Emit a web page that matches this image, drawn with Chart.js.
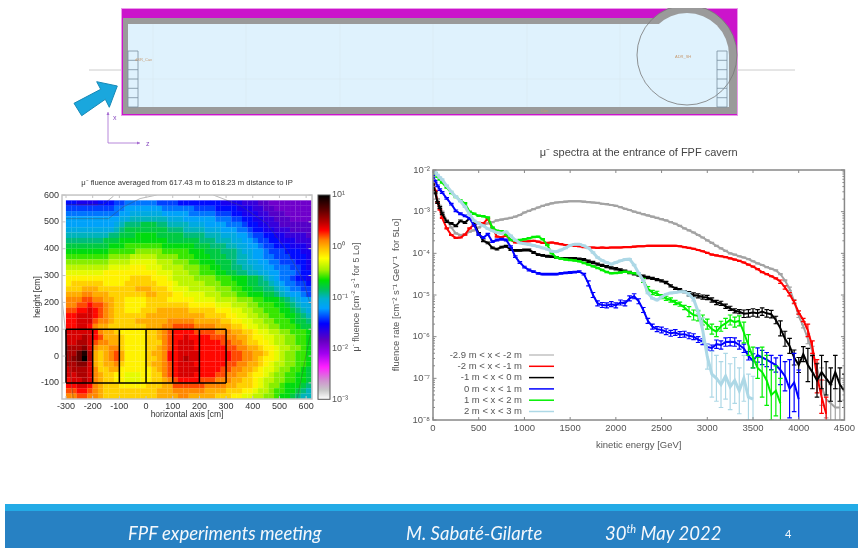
<!DOCTYPE html>
<html>
<head>
<meta charset="utf-8">
<title>FPF muon fluence</title>
<script src="https://cdn.jsdelivr.net/npm/chart.js"></script>
<style>
html, body { margin: 0; padding: 0; background: #fff; }
#slide { position: relative; width: 858px; height: 548px; overflow: hidden; filter: blur(0.45px); font-family: "Liberation Sans", sans-serif; }
#slide canvas { position: absolute; }
#heat { filter: blur(0.65px); }
#schematic { position: absolute; left: 0; top: 0; }
#barTitle { position: absolute; left: 355px; top: 297px; transform: translate(-50%, -50%) rotate(-90deg); white-space: nowrap; font-size: 9px; color: #555; }
#footer { position: absolute; left: 5px; right: 0; top: 504px; height: 44px; background: #2781c3; border-top: 7px solid #23abe6; box-sizing: border-box; }
#footer span { position: absolute; color: #f4f8fc; font-family: Lato, sans-serif; font-style: italic; font-size: 18.5px; top: 11px; white-space: nowrap; }
#footer sup { font-size: 11px; line-height: 0; }
</style>
</head>
<body>
<div id="slide">
  <svg id="schematic" width="858" height="170" font-family="Liberation Sans">
    <defs><clipPath id="topClip"><rect x="0" y="8" width="858" height="162"/></clipPath></defs>
    <line x1="89" y1="70" x2="122" y2="70" stroke="#ccc"/>
    <line x1="738" y1="70" x2="795" y2="70" stroke="#ccc"/>
    <rect x="121.5" y="8.5" width="616" height="107" fill="#cb14cb" stroke="#eb9aeb"/>
    <g clip-path="url(#topClip)">
      <rect x="123" y="18" width="530" height="96" fill="#9a9a9a"/>
      <rect x="123" y="55" width="614" height="59" fill="#9a9a9a"/>
      <circle cx="687" cy="55" r="50" fill="#9a9a9a"/>
      <rect x="128" y="24" width="531" height="83" fill="#dff2fd"/>
      <rect x="659" y="55" width="70" height="52" fill="#dff2fd"/>
      <circle cx="687" cy="55" r="42" fill="#dff2fd"/>
      <circle cx="687" cy="55" r="50" fill="none" stroke="#777" stroke-width="0.8"/>
    </g>
    <path d="M153 24V107M246 24V107M340 24V107M433 24V107M527 24V107M620 24V107M128 79H729" stroke="#d6e6ef" stroke-width="0.5" fill="none"/>
    <path d="M128 51h10v56h-10zM128 60.300h10M128 69.700h10M128 79h10M128 88.300h10M128 97.700h10" stroke="#7a8fa0" stroke-width="0.8" fill="none"/>
    <path d="M717 51h10v56h-10zM717 60.300h10M717 69.700h10M717 79h10M717 88.300h10M717 97.700h10" stroke="#7a8fa0" stroke-width="0.8" fill="none"/>
    <text x="135" y="61" font-size="4" fill="#c79a70">dSR_Cav</text>
    <text x="675" y="57.500" font-size="4" fill="#c79a70">ADR_SH</text>
    <text x="541" y="112" font-size="4" fill="#c79a70">Cav</text>
    <polygon points="74,103.300 100.700,89.300 96.700,81.700 117.300,86 109.300,107.300 105.300,99.300 81.700,115.700" fill="#1aa7dd" stroke="#1788b5"/>
    <path d="M108 112V143H140" fill="none" stroke="#a56bd0" stroke-width="0.8"/>
    <path d="M106.500 115L108 112L109.500 115ZM137 141.500L140 143L137 144.500Z" fill="#a56bd0"/>
    <text x="113" y="120" font-size="7" fill="#8a4fc0">x</text>
    <text x="146" y="146" font-size="7" fill="#8a4fc0">z</text>
  </svg>

  <canvas id="heat" width="316" height="250" style="left:0;top:170px"></canvas>
  <canvas id="bar" width="75" height="250" style="left:305px;top:170px"></canvas>
  <span id="barTitle">μ<sup style="font-size:6px">-</sup> fluence [cm<sup style="font-size:6px">-2</sup> s<sup style="font-size:6px">-1</sup> for 5 Lo]</span>
  <canvas id="spectra" width="478" height="320" style="left:380px;top:140px"></canvas>

  <div id="footer">
    <span style="left:123px">FPF experiments meeting</span>
    <span style="left:401px">M. Sabaté-Gilarte</span>
    <span style="left:600px">30<sup>th</sup> May 2022</span>
    <span style="left:780px;top:16px;font-size:11px;font-style:normal">4</span>
  </div>
</div>

<script>
// spectra: log10 of the fluence rate, one entry per energy bin
const energies = [0, 25, 50, 75, 100, 150, 200, 250, 300, 350, 400, 450, 500, 550, 600, 650, 700, 750, 800, 850, 900, 950,
  1000, 1050, 1100, 1150, 1200, 1250, 1300, 1350, 1400, 1450, 1500, 1550, 1600, 1650, 1700, 1750, 1800, 1850, 1900, 1950,
  2000, 2050, 2100, 2150, 2200, 2250, 2300, 2350, 2400, 2450, 2500, 2550, 2600, 2650, 2700, 2750, 2800, 2850, 2900, 2950,
  3000, 3050, 3100, 3150, 3200, 3250, 3300, 3350, 3400, 3450, 3500, 3550, 3600, 3650, 3700, 3750, 3800, 3850, 3900, 3950,
  4000, 4050, 4100, 4150, 4200, 4250, 4300, 4350, 4400, 4450, 4500];

const grayLog = [-2.30, -2.50, -2.70, -2.86, -3.00, -3.20, -3.38, -3.52, -3.56, -3.55, -3.48, -3.45, -3.38, -3.33, -3.28, -3.25, -3.21, -3.19, -3.17, -3.15, -3.12, -3.08,
  -3.02, -2.98, -2.94, -2.90, -2.86, -2.83, -2.80, -2.78, -2.77, -2.76, -2.75, -2.75, -2.75, -2.76, -2.77, -2.78, -2.79, -2.81, -2.82, -2.84,
  -2.86, -2.89, -2.93, -2.96, -3.00, -3.03, -3.06, -3.09, -3.12, -3.15, -3.18, -3.21, -3.25, -3.29, -3.34, -3.40, -3.45, -3.50, -3.56, -3.62,
  -3.69, -3.75, -3.82, -3.88, -3.94, -4.00, -4.03, -4.07, -4.10, -4.14, -4.19, -4.24, -4.28, -4.33, -4.37, -4.41, -4.50, -4.65, -4.85, -5.15,
  -5.50, -5.75, -6.05, -6.35, -6.75, -7.20, -7.50, -7.60, -7.70, -7.70];
const redLog = [-2.30, -2.50, -2.78, -2.95, -3.15, -3.40, -3.56, -3.63, -3.62, -3.55, -3.40, -3.31, -3.27, -3.28, -3.17, -3.40, -3.60, -3.61, -3.58, -3.68, -3.74, -3.73,
  -3.72, -3.71, -3.70, -3.72, -3.75, -3.75, -3.74, -3.76, -3.78, -3.80, -3.81, -3.82, -3.83, -3.85, -3.86, -3.86, -3.87, -3.86, -3.87, -3.86,
  -3.86, -3.86, -3.85, -3.85, -3.84, -3.83, -3.83, -3.82, -3.82, -3.82, -3.82, -3.82, -3.82, -3.82, -3.83, -3.85, -3.87, -3.89, -3.92, -3.95,
  -3.99, -4.03, -4.05, -4.07, -4.09, -4.12, -4.15, -4.18, -4.22, -4.27, -4.32, -4.38, -4.45, -4.50, -4.55, -4.60, -4.68, -4.82, -4.98, -5.17,
  -5.42, -5.60, -5.85, -6.25, -6.95, -7.44, -7.85];
const blackLog = [-2.32, -2.55, -2.78, -2.90, -3.05, -3.24, -3.28, -3.34, -3.22, -3.26, -3.16, -3.28, -3.52, -3.70, -3.75, -3.87, -3.90, -3.85, -3.83, -3.91, -3.93, -3.93,
  -3.92, -3.92, -3.98, -4.03, -4.05, -4.07, -4.08, -4.10, -4.12, -4.12, -4.13, -4.13, -4.14, -4.15, -4.19, -4.22, -4.26, -4.29, -4.32, -4.35,
  -4.37, -4.40, -4.43, -4.46, -4.49, -4.52, -4.55, -4.58, -4.60, -4.63, -4.66, -4.70, -4.78, -4.84, -4.87, -4.92, -4.97, -5.00, -5.02, -5.05,
  -5.06, -5.12, -5.18, -5.20, -5.27, -5.32, -5.38, -5.40, -5.45, -5.44, -5.42, -5.44, -5.40, -5.44, -5.46, -5.60, -5.80, -6.05, -6.22, -6.50,
  -6.68, -6.42, -6.68, -6.85, -7.05, -6.85, -7.00, -7.15, -6.85, -7.15, -7.30];
const blueLog = [-2.15, -2.27, -2.38, -2.47, -2.54, -2.68, -2.82, -2.98, -3.05, -3.10, -3.16, -3.33, -3.55, -3.62, -3.54, -3.72, -3.68, -3.66, -3.68, -3.84, -4.08, -4.22,
  -4.33, -4.40, -4.44, -4.48, -4.50, -4.50, -4.50, -4.50, -4.48, -4.47, -4.46, -4.45, -4.44, -4.50, -4.72, -5.00, -5.20, -5.24, -5.25, -5.22,
  -5.25, -5.18, -5.20, -5.08, -5.03, -5.15, -5.36, -5.62, -5.76, -5.82, -5.84, -5.88, -5.92, -5.90, -5.95, -5.94, -5.98, -6.00, -6.07, -6.12,
  -6.25, -6.27, -6.18, -6.20, -6.13, -6.12, -6.13, -6.20, -6.28, -6.46, -6.58, -6.44, -6.50, -6.55, -6.62, -6.68, -6.80, -6.95, -7.25, -7.10,
  -7.50];
const greenLog = [-2.00, -2.08, -2.16, -2.23, -2.30, -2.42, -2.55, -2.65, -2.73, -2.80, -3.00, -3.05, -3.10, -3.11, -3.14, -3.38, -3.46, -3.47, -3.55, -3.68, -3.69, -3.68,
  -3.66, -3.64, -3.61, -3.60, -3.66, -3.80, -4.00, -4.10, -4.13, -4.15, -4.16, -4.17, -4.19, -4.23, -4.27, -4.31, -4.35, -4.40, -4.45, -4.48,
  -4.47, -4.46, -4.44, -4.46, -4.48, -4.50, -4.65, -4.85, -4.94, -4.96, -5.04, -5.08, -5.12, -5.18, -5.22, -5.30, -5.40, -5.48, -5.50, -5.60,
  -5.70, -5.82, -5.88, -5.75, -5.68, -5.60, -5.65, -5.62, -5.90, -6.20, -6.50, -6.75, -6.85, -7.05, -7.40, -7.30, -7.60];
const lightBlueLog = [-2.00, -2.06, -2.12, -2.18, -2.23, -2.38, -2.52, -2.64, -2.75, -2.88, -3.06, -3.22, -3.28, -3.34, -3.41, -3.46, -3.50, -3.52, -3.48, -3.58, -3.68, -3.75,
  -3.77, -3.79, -3.81, -3.84, -3.87, -3.90, -3.95, -3.96, -3.92, -3.87, -3.81, -3.78, -3.78, -3.82, -3.87, -3.98, -4.10, -4.17, -4.22, -4.26,
  -4.22, -4.18, -4.15, -4.14, -4.28, -4.48, -4.65, -4.95, -5.08, -5.12, -5.05, -4.98, -4.95, -4.94, -4.92, -4.92, -4.98, -5.10, -5.40, -5.85,
  -6.48, -6.90, -7.00, -7.15, -6.95, -7.20, -7.05, -7.30, -7.00, -7.45, -7.50];

// half width of the error bars in decades: [from energy, half width]
const grayErr = [[0, .012], [3900, .04], [4100, .12], [4250, .45]];
const redErr = [[0, .012], [3800, .04], [4100, .15], [4200, .4]];
const blackErr = [[0, .02], [1500, .025], [2800, .05], [3400, .09], [3800, .18], [4100, .4]];
const blueErr = [[0, .02], [1700, .06], [2500, .07], [3100, .1], [3500, .17], [3800, .35], [3900, .7]];
const greenErr = [[0, .015], [2300, .05], [2800, .12], [3400, .25], [3600, .6]];
const lightBlueErr = [[0, .015], [2800, .04], [2950, .3], [3050, .55]];

const seriesLabels = ['-2.9 m < x < -2 m', '-2 m < x < -1 m', '-1 m < x < 0 m', '0 m < x < 1 m', '1 m < x < 2 m', '2 m < x < 3 m'];
const seriesColors = ['#a3a3a3', '#ff0000', '#000000', '#0000ff', '#00f000', '#add8e6'];

const spectraXTicks = [0, 500, 1000, 1500, 2000, 2500, 3000, 3500, 4000, 4500];
const decades = [-8, -7, -6, -5, -4, -3, -2];
const decadeLabels = ['10⁻⁸', '10⁻⁷', '10⁻⁶', '10⁻⁵', '10⁻⁴', '10⁻³', '10⁻²'];

// fluence map, 20 cm cells. rows from y=570 down to y=-150, columns from x=-290 to x=610.
// every character is one cell: base 36 digit L, log10(fluence) = -2.2 + 0.1 L
const heatRows = [
  '7766667778' + '8999999888' + '8777777776' + '6665554433' + '333333',
  '8888888889' + '9aaaaaaa99' + '9999888877' + '7766655443' + '333333',
  '9999999999' + 'aabbbbbbaa' + 'aaa9999988' + '8776665544' + '433333',
  'aaaaaaaaaa' + 'bbcccccccb' + 'bbaaaaaa99' + '9887766554' + '443333',
  'aaaaaaaaab' + 'cdddeeeddc' + 'cccbbbaaaa' + '9998776655' + '444444',
  'bbbbbbbbbc' + 'deeeeeeeed' + 'ddccccbbba' + 'aa99877665' + '554444',
  'ccccccccdd' + 'eeeffffeee' + 'eeddddcccb' + 'bbaa988776' + '655554',
  'dddddddeee' + 'fffffffffe' + 'eeeeedddcc' + 'cbbaa98877' + '666555',
  'eeeeeeeeff' + 'fgggggggff' + 'ffffeeeddd' + 'ccbbaa9887' + '776665',
  'ffffffffgg' + 'ggghhhhhgg' + 'gggfffeeed' + 'ddcbbaa988' + '877766',
  'gggggggghh' + 'hhiiiiihhh' + 'hgggfffeee' + 'ddccbaa998' + '887776',
  'hhhhhhhhii' + 'iijjjjjiii' + 'hhhggfffee' + 'edccbbaa99' + '888776',
  'iiiiiiiijj' + 'jjkkkjjjii' + 'iihhhggffe' + 'eddccbbaa9' + '998876',
  'jjjjjjjkkk' + 'kkkkkkkjjj' + 'iiihhgggff' + 'eeddccbbaa' + '999877',
  'kkkkkkkkkk' + 'kkllllkkkj' + 'iiiihhhhgg' + 'gfffeedcba' + '998776',
  'kllllllkkk' + 'kllllllkkk' + 'jiiiiihhhg' + 'ggffeeddcb' + 'a99887',
  'lllmmmllll' + 'lllmmmlllk' + 'jjjiiiiihh' + 'hggffeeddc' + 'ba9988',
  'mmmnnmmmll' + 'lllllmmlll' + 'kkjjjjiiih' + 'hhggfffeed' + 'cbaa98',
  'nnnoonnmml' + 'lkkkkllllk' + 'kkkkjjjjii' + 'iihhhggfff' + 'edcbaa',
  'nnoopoonml' + 'lkkkklllll' + 'lllkkkkkjj' + 'jiiihhgggf' + 'fedcbb',
  'ooppqponml' + 'lkkklllmmm' + 'mmmlllllkk' + 'kjjiihhggg' + 'ffedcb',
  'ppqqqponml' + 'lllllmmmmm' + 'mmmmmmllll' + 'kkjjiihhgg' + 'gffedc',
  'ppqqqonnml' + 'lllmmmmmmn' + 'nnnnmmmmml' + 'lkkjjiihhg' + 'ggfeed',
  'ppqqpnmmll' + 'lllllmmmnn' + 'oooonnnnmm' + 'mllkjjiihh' + 'gggfee',
  'qqqqqpnmml' + 'kkkkkllmno' + 'ppppoooonn' + 'nmmllkjjii' + 'hhgggf',
  'qqqrqpommm' + 'lkkkkllmno' + 'ppqppppooo' + 'nnmmlkkjji' + 'ihhggf',
  'qqrrqonnmm' + 'lkkkklllno' + 'pqqqpppppo' + 'onnmllkkji' + 'ihhggf',
  'rrrsqnmmnn' + 'lkkkkllmno' + 'pqqqpppppp' + 'oonnmmlkkj' + 'iihhgf',
  'rrtvrmlmno' + 'mkkkklmmnp' + 'pqqqqppppp' + 'poonnmmlkj' + 'ihhggf',
  'rstwrmlmno' + 'mkkkkllmnp' + 'pqrqqppppp' + 'poonnmlkkj' + 'ihhggf',
  'rrssqmlmmn' + 'lkkkklmmno' + 'pqqqpppppp' + 'oonnmmlkji' + 'ihhggf',
  'qrrrqnllmm' + 'kkkkkklmno' + 'pqqqqppppo' + 'onnmmlkjji' + 'hhggfe',
  'qqrrqnmllk' + 'kjjjkkllno' + 'pqqqppppoo' + 'nnmmlkkjih' + 'hggffe',
  'pqqrqnmllk' + 'kjjjkkllmn' + 'oppppooonn' + 'nmmllkjiih' + 'hggffe',
  'ppqqpnmlll' + 'kkkkklllmm' + 'oooooonnnn' + 'mmlllkjihh' + 'gfffed',
  'oopponmlll' + 'lllllllmmm' + 'nnnnnnmmmm' + 'lllkkjiihg' + 'gffedc',
  'nnoonnmlll' + 'lllllllmmm' + 'mnnmmmmmll' + 'lkkjjiihhg' + 'ffedcc'
];
const heatXCenters = [-290, -270, -250, -230, -210, -190, -170, -150, -130, -110, -90, -70, -50, -30, -10, 10, 30, 50, 70, 90, 110, 130, 150, 170, 190, 210, 230, 250, 270, 290,
  310, 330, 350, 370, 390, 410, 430, 450, 470, 490, 510, 530, 550, 570, 590, 610];
const heatYCenters = [570, 550, 530, 510, 490, 470, 450, 430, 410, 390, 370, 350, 330, 310, 290, 270, 250, 230, 210, 190, 170, 150, 130, 110, 90, 70, 50, 30, 10, -10, -30, -50, -70, -90, -110, -130, -150];

const heatXTicks = [-300, -200, -100, 0, 100, 200, 300, 400, 500, 600];
const heatYTicks = [-100, 0, 100, 200, 300, 400, 500, 600];
const boxEdges = [-300, -200, -100, 0, 100, 200, 300];
const boxLow = -100;
const boxHigh = 100;

// faint cavern outline seen through the map, null starts a new piece
const outlineX = [-300, -141, -85, -22, 40, null, -300, -160, -122, null, 252, 352, 452, 527, 590, 615, null, 621, 565, null, -316, -272];
const outlineY = [512, 512, 556, 587, 600, null, 565, 565, 596, null, 600, 562, 494, 394, 281, 194, null, 106, -166, null, 219, -166];

// colour map: log10 fluence and colour
const mapLogs = [-3, -2.82, -2.63, -2.37, -2.1, -1.84, -1.52, -1.22, -1.03, -0.86, -0.67, -0.47, -0.24, -0.05, 0.12, 0.31, 0.45, 0.7, 1];
const mapColors = ['#ffffff', '#c8c8c8', '#d090d0', '#ff20ff', '#a000f0', '#6000c0', '#0000ff', '#00a0ff', '#00b0d0', '#00c060', '#00e000', '#a0f000', '#ffff00', '#ffc000', '#ff8000', '#ff0000', '#c00000', '#600000', '#000000'];
const barTicks = [-3, -2, -1, 0, 1];
const barLabels = ['10⁻³', '10⁻²', '10⁻¹', '10⁰', '10¹'];

const textColor = '#555';
const font = { family: '"Liberation Sans", sans-serif', size: 9.5 };
const hiddenGrid = { display: false, drawTicks: false };
Chart.defaults.animation = false;
Chart.defaults.responsive = false;
Chart.defaults.color = textColor;
Chart.defaults.font.family = font.family;

function hexRgb(h) {
  return [1, 3, 5].map(i => parseInt(h.slice(i, i + 2), 16));
}

function mapColor(lg) {
  let i = 0;
  while (i < mapLogs.length - 2 && lg > mapLogs[i + 1]) i++;
  const t = Math.min(1, Math.max(0, (lg - mapLogs[i]) / (mapLogs[i + 1] - mapLogs[i])));
  const a = hexRgb(mapColors[i]), b = hexRgb(mapColors[i + 1]);
  return 'rgb(' + a.map((v, k) => Math.round(v + (b[k] - v) * t)).join(',') + ')';
}

// gnuplot style box: frame with the ticks pointing inwards on both sides
const frameTicks = {
  id: 'frameTicks',
  afterDatasetsDraw(chart, args, opts) {
    const { ctx, chartArea: a } = chart;
    ctx.save();
    ctx.strokeStyle = opts.color;
    ctx.lineWidth = 1;
    ctx.beginPath();
    chart.scales.x.ticks.forEach(t => {
      const x = chart.scales.x.getPixelForValue(t.value);
      ctx.moveTo(x, a.bottom); ctx.lineTo(x, a.bottom - 3);
      ctx.moveTo(x, a.top); ctx.lineTo(x, a.top + 3);
    });
    chart.scales.y.ticks.forEach(t => {
      const y = chart.scales.y.getPixelForValue(t.value);
      const len = t.minor ? 2 : 3.5;
      ctx.moveTo(a.left, y); ctx.lineTo(a.left + len, y);
      ctx.moveTo(a.right, y); ctx.lineTo(a.right - len, y);
    });
    ctx.stroke();
    ctx.lineWidth = opts.width;
    ctx.strokeRect(a.left, a.top, a.right - a.left, a.bottom - a.top);
    ctx.restore();
  }
};

// error bars, drawn straight after their own curve
const errorBars = {
  id: 'errorBars',
  afterDatasetDraw(chart, args) {
    const ds = chart.data.datasets[args.index];
    const { ctx, chartArea: a, scales: { x, y } } = chart;
    ctx.save();
    ctx.beginPath();
    ctx.rect(a.left, a.top, a.right - a.left, a.bottom - a.top);
    ctx.clip();
    ctx.strokeStyle = ds.borderColor;
    ctx.lineWidth = 1.2;
    ctx.beginPath();
    ds.data.forEach(p => {
      if (p.y == null) return;
      const half = ds.errBands.filter(b => b[0] <= p.x).pop()[1];
      const px = x.getPixelForValue(p.x);
      const lo = y.getPixelForValue(p.y * Math.pow(10, -half));
      const hi = y.getPixelForValue(p.y * Math.pow(10, half));
      ctx.moveTo(px, lo); ctx.lineTo(px, hi);
      ctx.moveTo(px - 2.3, lo); ctx.lineTo(px + 2.3, lo);
      ctx.moveTo(px - 2.3, hi); ctx.lineTo(px + 2.3, hi);
    });
    ctx.stroke();
    ctx.restore();
  }
};

// gnuplot key: right aligned text with the sample line behind it
const keyBox = {
  id: 'keyBox',
  afterDraw(chart) {
    const { ctx } = chart;
    ctx.save();
    ctx.font = '9.5px ' + font.family;
    ctx.textAlign = 'right';
    ctx.textBaseline = 'middle';
    chart.data.datasets.forEach((ds, i) => {
      const y = 215 + i * 11.3;
      ctx.fillStyle = textColor;
      ctx.fillText(ds.label, 142, y);
      ctx.strokeStyle = ds.borderColor;
      ctx.lineWidth = i == 0 ? 1 : 1.5;
      ctx.beginPath();
      ctx.moveTo(149, y);
      ctx.lineTo(174, y);
      ctx.stroke();
    });
    ctx.restore();
  }
};

function spectraSeries(logs, i, band) {
  return {
    label: seriesLabels[i],
    data: energies.map((e, k) => ({ x: e, y: logs[k] === undefined ? null : Math.pow(10, logs[k]) })),
    borderColor: seriesColors[i],
    borderWidth: i == 5 ? 3 : 2,
    pointRadius: 0,
    showLine: true,
    order: 6 - i,
    errBands: band
  };
}

const decadeTicks = [];
decades.forEach((d, k) => {
  decadeTicks.push({ value: Math.pow(10, d), label: decadeLabels[k] });
  if (d < -2) [2, 3, 4, 5, 6, 7, 8, 9].forEach(m => decadeTicks.push({ value: m * Math.pow(10, d), label: '', minor: true }));
});

new Chart(document.getElementById('spectra'), {
  type: 'scatter',
  data: {
    datasets: [
      spectraSeries(grayLog, 0, grayErr),
      spectraSeries(redLog, 1, redErr),
      spectraSeries(blackLog, 2, blackErr),
      spectraSeries(blueLog, 3, blueErr),
      spectraSeries(greenLog, 4, greenErr),
      spectraSeries(lightBlueLog, 5, lightBlueErr)
    ]
  },
  options: {
    layout: { padding: { right: 9 } },
    plugins: {
      legend: { display: false },
      title: { display: true, fullSize: false, text: 'μ⁻ spectra at the entrance of FPF cavern', color: '#444', font: { size: 11, weight: 'normal' }, padding: { top: 6, bottom: 10.8 } },
      tooltip: { enabled: false },
      frameTicks: { color: '#888', width: 1.5 }
    },
    scales: {
      x: {
        type: 'linear', min: 0, max: 4500,
        grid: hiddenGrid, border: { display: false },
        afterBuildTicks: s => { s.ticks = spectraXTicks.map(v => ({ value: v })); },
        afterFit: s => { s.height = 40; },
        ticks: { font, padding: 3, autoSkip: false, maxRotation: 0, callback: v => String(v) },
        title: { display: true, text: 'kinetic energy [GeV]', font: { size: 9.5 }, padding: { top: 0, bottom: 9 } }
      },
      y: {
        type: 'logarithmic', min: 1e-8, max: 1e-2,
        grid: hiddenGrid, border: { display: false },
        afterBuildTicks: s => { s.ticks = decadeTicks.map(t => ({ value: t.value, minor: t.minor })); },
        afterFit: s => { s.width = 53; },
        ticks: { font, padding: 3, autoSkip: false, maxRotation: 0, callback: (v, i) => decadeTicks[i].label },
        title: { display: true, text: 'fluence rate [cm⁻² s⁻¹ GeV⁻¹  for 5Lo]', font: { size: 9.5 }, padding: { top: 11, bottom: 0 } }
      }
    }
  },
  plugins: [frameTicks, errorBars, keyBox]
});

// heat map cells as square points sized to one cell
const cells = [], cellColors = [];
heatRows.forEach((row, j) => {
  row.split('').forEach((ch, i) => {
    const lg = -2.2 + 0.1 * parseInt(ch, 36);
    cells.push({ x: heatXCenters[i], y: heatYCenters[j] });
    cellColors.push(mapColor(lg));
  });
});

const boxPoints = [];
boxEdges.forEach(x => boxPoints.push({ x, y: boxLow }, { x, y: boxHigh }, { x: null, y: null }));
[boxLow, boxHigh].forEach(y => boxPoints.push({ x: boxEdges[0], y }, { x: boxEdges[boxEdges.length - 1], y }, { x: null, y: null }));

new Chart(document.getElementById('heat'), {
  type: 'scatter',
  data: {
    datasets: [
      { data: boxPoints, showLine: true, borderColor: '#000', borderWidth: 1.5, pointRadius: 0, order: 1 },
      { data: outlineX.map((x, i) => ({ x, y: outlineY[i] })), showLine: true, borderColor: 'rgba(70,70,70,0.55)', borderWidth: 0.7, pointRadius: 0, order: 2 },
      { data: cells, pointStyle: 'rect', pointRadius: 3.9, pointBorderWidth: 0, pointBackgroundColor: cellColors, order: 3 }
    ]
  },
  options: {
    layout: { padding: { right: 4 } },
    plugins: {
      legend: { display: false },
      tooltip: { enabled: false },
      title: { display: true, fullSize: false, text: 'μ⁻ fluence averaged from 617.43 m to 618.23 m distance to IP', color: '#333', font: { size: 7.7, weight: 'normal' }, padding: { top: 8, bottom: 7.800 } },
      frameTicks: { color: '#c4c4c4', width: 1.5 }
    },
    scales: {
      x: {
        type: 'linear', min: -315, max: 622,
        grid: hiddenGrid, border: { display: false },
        afterBuildTicks: s => { s.ticks = heatXTicks.map(v => ({ value: v })); },
        afterFit: s => { s.height = 21; },
        ticks: { font: { size: 9 }, color: '#333', padding: 2, autoSkip: false, maxRotation: 0, callback: v => String(v) },
        title: { display: true, text: 'horizontal axis [cm]', color: '#333', font: { size: 8.5 }, padding: { top: 0, bottom: 0 } }
      },
      y: {
        type: 'linear', min: -160, max: 600,
        grid: hiddenGrid, border: { display: false },
        afterBuildTicks: s => { s.ticks = heatYTicks.map(v => ({ value: v })); },
        afterFit: s => { s.width = 62; },
        ticks: { font: { size: 9 }, color: '#333', padding: 3, autoSkip: false, callback: v => String(v) },
        title: { display: true, text: 'height [cm]', color: '#333', font: { size: 8.5 }, padding: { top: 33, bottom: 0 } }
      }
    }
  },
  plugins: [frameTicks]
});

// colour bar: one floating bar over the full range, filled with the colour map
new Chart(document.getElementById('bar'), {
  type: 'bar',
  data: {
    labels: [''],
    datasets: [{
      data: [[Math.pow(10, mapLogs[0]), Math.pow(10, mapLogs[mapLogs.length - 1])]],
      barPercentage: 1,
      categoryPercentage: 1,
      backgroundColor: c => {
        const a = c.chart.chartArea;
        if (!a) return '#fff';
        const g = c.chart.ctx.createLinearGradient(0, a.bottom, 0, a.top);
        mapLogs.forEach((lg, i) => g.addColorStop((lg - mapLogs[0]) / (mapLogs[mapLogs.length - 1] - mapLogs[0]), mapColors[i]));
        return g;
      }
    }]
  },
  options: {
    layout: { padding: { left: 13, top: 25, bottom: 20.700 } },
    plugins: {
      legend: { display: false },
      tooltip: { enabled: false }
    },
    scales: {
      x: { display: false },
      y: {
        type: 'logarithmic', position: 'right', min: 1e-3, max: 10,
        grid: hiddenGrid, border: { display: false },
        afterBuildTicks: s => { s.ticks = barTicks.map(v => ({ value: Math.pow(10, v) })); },
        afterFit: s => { s.width = 50; },
        ticks: { font: { size: 9 }, padding: 2, autoSkip: false, maxRotation: 0, callback: (v, i) => barLabels[i] }
      }
    }
  },
  plugins: [{
    id: 'barFrame',
    afterDraw(chart) {
      const { ctx, chartArea: a } = chart;
      ctx.save();
      ctx.strokeStyle = '#555';
      ctx.lineWidth = 1;
      ctx.strokeRect(a.left, a.top, a.right - a.left, a.bottom - a.top);
      ctx.restore();
    }
  }]
});
</script>
</body>
</html>
